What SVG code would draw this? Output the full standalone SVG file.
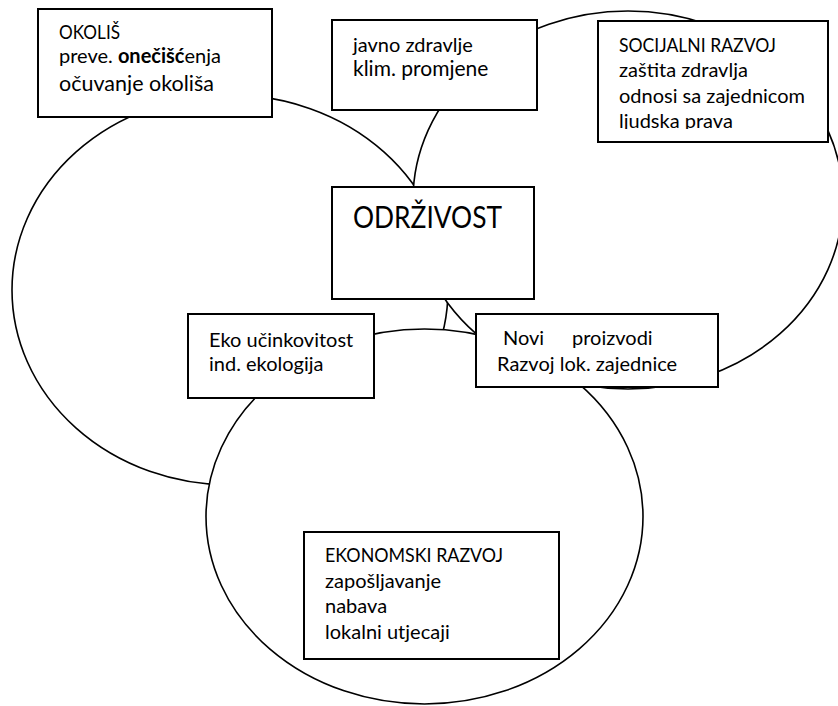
<svg xmlns="http://www.w3.org/2000/svg" width="838" height="706" viewBox="0 0 838 706">
  <style>
    .ring { fill: #ffffff; stroke: #000000; stroke-width: 1.6; }
    .box { fill: #ffffff; stroke: #000000; stroke-width: 2; }
    .t { font-family: Lato, "Liberation Sans", sans-serif; font-size: 20px; fill: #000000; }
    .b { font-weight: bold; }
  </style>
  <defs>
    <clipPath id="socClip">
      <rect x="599" y="22" width="228" height="107"/>
    </clipPath>
  </defs>
  <rect width="838" height="706" fill="#ffffff"/>
  <g id="connectors">
    <ellipse id="ring-okolis" class="ring" cx="230" cy="290" rx="218" ry="195"/>
    <ellipse id="ring-socijalni" class="ring" cx="628" cy="200" rx="215" ry="189"/>
    <ellipse id="ring-ekonomski" class="ring" cx="424.5" cy="516.5" rx="218.5" ry="187.5"/>
  </g>
  <g id="okolis">
    <rect class="box" x="38" y="9" width="234" height="108"/>
    <text class="t" x="59" y="39" textLength="61" lengthAdjust="spacingAndGlyphs">OKOLIŠ</text>
    <text class="t" x="59" y="63">preve. <tspan class="b">onečišć</tspan>enja</text>
    <text class="t" x="59" y="91" style="font-size:21.5px">očuvanje okoliša</text>
  </g>
  <g id="javno">
    <rect class="box" x="332" y="20" width="205" height="90"/>
    <text class="t" x="353" y="52">javno zdravlje</text>
    <text class="t" x="353" y="76" style="font-size:21px">klim. promjene</text>
  </g>
  <g id="socijalni">
    <rect class="box" x="598" y="21" width="230" height="121"/>
    <g clip-path="url(#socClip)">
      <text class="t" x="619" y="52" textLength="157" lengthAdjust="spacingAndGlyphs">SOCIJALNI RAZVOJ</text>
      <text class="t" x="619" y="77">zaštita zdravlja</text>
      <text class="t" x="619" y="103">odnosi sa zajednicom</text>
      <text class="t" x="619" y="128">ljudska prava</text>
    </g>
  </g>
  <g id="odrzivost">
    <rect class="box" x="332" y="187" width="202" height="112"/>
    <text class="t" x="353" y="228" style="font-size:30px" textLength="149" lengthAdjust="spacingAndGlyphs">ODRŽIVOST</text>
  </g>
  <g id="eko">
    <rect class="box" x="188" y="314" width="186" height="84"/>
    <text class="t" x="209" y="347">Eko učinkovitost</text>
    <text class="t" x="209" y="371">ind. ekologija</text>
  </g>
  <g id="novi">
    <rect class="box" x="476" y="314" width="242" height="73"/>
    <text class="t" y="345"><tspan x="503">Novi</tspan><tspan x="572">proizvodi</tspan></text>
    <text class="t" x="497" y="371">Razvoj lok. zajednice</text>
  </g>
  <g id="ekonomski">
    <rect class="box" x="304" y="532" width="255" height="127"/>
    <text class="t" x="325" y="562" textLength="178" lengthAdjust="spacingAndGlyphs">EKONOMSKI RAZVOJ</text>
    <text class="t" x="325" y="588">zapošljavanje</text>
    <text class="t" x="325" y="613">nabava</text>
    <text class="t" x="325" y="639">lokalni utjecaji</text>
  </g>
</svg>
